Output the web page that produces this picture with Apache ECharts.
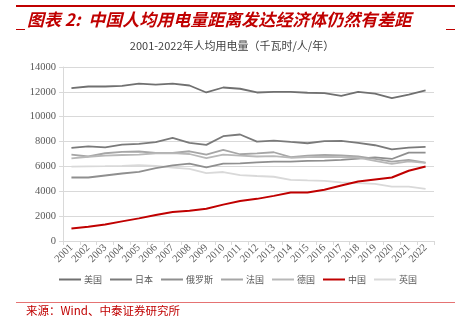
<!DOCTYPE html>
<html><head><meta charset="utf-8">
<script src="https://cdn.jsdelivr.net/npm/echarts@6/dist/echarts.min.js"></script>
<style>html,body{margin:0;padding:0;background:#fff}#c{width:462px;height:329px}</style>
</head><body><div id="c"></div>
<script>
const years = ['2001','2002','2003','2004','2005','2006','2007','2008','2009','2010','2011','2012','2013','2014','2015','2016','2017','2018','2019','2020','2021','2022'];
const usa     = [12300,12430,12430,12480,12670,12590,12670,12510,11950,12350,12250,11950,12000,12000,11930,11900,11680,12000,11850,11500,11780,12120];
const japan   = [7490,7620,7540,7760,7810,7950,8300,7900,7735,8430,8570,8000,8080,7970,7865,8030,8060,7900,7705,7380,7520,7570];
const russia  = [5110,5110,5270,5430,5570,5870,6080,6220,5920,6220,6250,6330,6380,6380,6440,6470,6520,6620,6730,6600,7110,7110];
const france  = [6950,6800,7060,7170,7200,7090,7080,7220,6950,7330,6980,7050,7140,6750,6870,6920,6880,6800,6600,6380,6520,6300];
const germany = [6650,6780,6870,6920,6950,7060,7070,7000,6670,6950,6870,6800,6830,6700,6750,6780,6750,6700,6450,6200,6400,6280];
const china   = [1010,1140,1335,1580,1820,2090,2330,2440,2600,2925,3220,3390,3630,3900,3900,4120,4460,4780,4950,5110,5650,6000];
const uk      = [5980,6000,6020,6050,6100,6050,5900,5800,5460,5550,5300,5230,5170,4925,4870,4840,4710,4650,4600,4380,4380,4200];
const seriesNames = ['美国','日本','俄罗斯','法国','德国','中国','英国'];
const seriesData = [usa, japan, russia, france, germany, china, uk];
const colors = ['#707070','#7a7a7a','#8f8f8f','#a6a6a6','#b8b8b8','#c00000','#d9d9d9'];

const chart = echarts.init(document.getElementById('c'), null, {renderer:'canvas'});
const serif = '"Liberation Serif","DejaVu Serif",serif';
const cjk = '"Noto Sans CJK SC","Noto Sans",sans-serif';
chart.setOption({
  animation:false,
  color: colors,
  grid:{left:63, right:28, top:67, bottom:88},
  xAxis:{type:'category', data:years, boundaryGap:true,
    axisLine:{lineStyle:{color:'#d9d9d9'}},
    axisTick:{show:true, lineStyle:{color:'#d9d9d9'}, length:4},
    axisLabel:{rotate:45, fontFamily:serif, fontSize:10.5, color:'#595959', margin:5, interval:0}},
  yAxis:{type:'value', min:0, max:14000, interval:2000,
    axisLine:{show:true, lineStyle:{color:'#d9d9d9'}},
    axisTick:{show:true, length:4, lineStyle:{color:'#d9d9d9'}},
    splitLine:{lineStyle:{color:'#d9d9d9'}},
    axisLabel:{fontFamily:serif, fontSize:10.5, color:'#595959', margin:7, formatter:v=>String(v)}},
  legend:{bottom:40, left:54, itemWidth:22, itemHeight:2, itemGap:8,
    icon:'rect',
    textStyle:{fontFamily:cjk, fontSize:9, color:'#595959', padding:[0,0,0,-2]},
    data:seriesNames},
  series: seriesNames.map((n,i)=>({name:n, type:'line', data:seriesData[i], symbol:'none',
    lineStyle:{width: i===5?2:1.8, color:colors[i]}, z: i===5?10:(i===6?1:5)})),
  graphic:[
    {type:'rect', shape:{x:16, y:5, width:439, height:2}, style:{fill:'#c00000'}},
    {type:'rect', shape:{x:16, y:29, width:9, height:1}, style:{fill:'#c00000'}},
    {type:'rect', shape:{x:446, y:29, width:9, height:1}, style:{fill:'#c00000'}},
    {type:'text', x:27, y:20, style:{text:'图表 2:  中国人均用电量距离发达经济体仍然有差距', fill:'#c00000',
      font:'italic bold 17px "Noto Sans CJK SC", sans-serif', textVerticalAlign:'middle'}},
    {type:'text', x:232, y:46, style:{text:'2001-2022年人均用电量（千瓦时/人/年）', fill:'#404040',
      font:'11px "Noto Sans CJK SC", sans-serif', textAlign:'center', textVerticalAlign:'middle'}},
    {type:'rect', shape:{x:16, y:302, width:439, height:1}, style:{fill:'#e57373'}},
    {type:'text', x:26, y:311, style:{text:'来源：Wind、中泰证券研究所', fill:'#c00000',
      font:'11.5px "Noto Sans CJK SC", sans-serif', textVerticalAlign:'middle'}}
  ]
});
</script></body></html>
